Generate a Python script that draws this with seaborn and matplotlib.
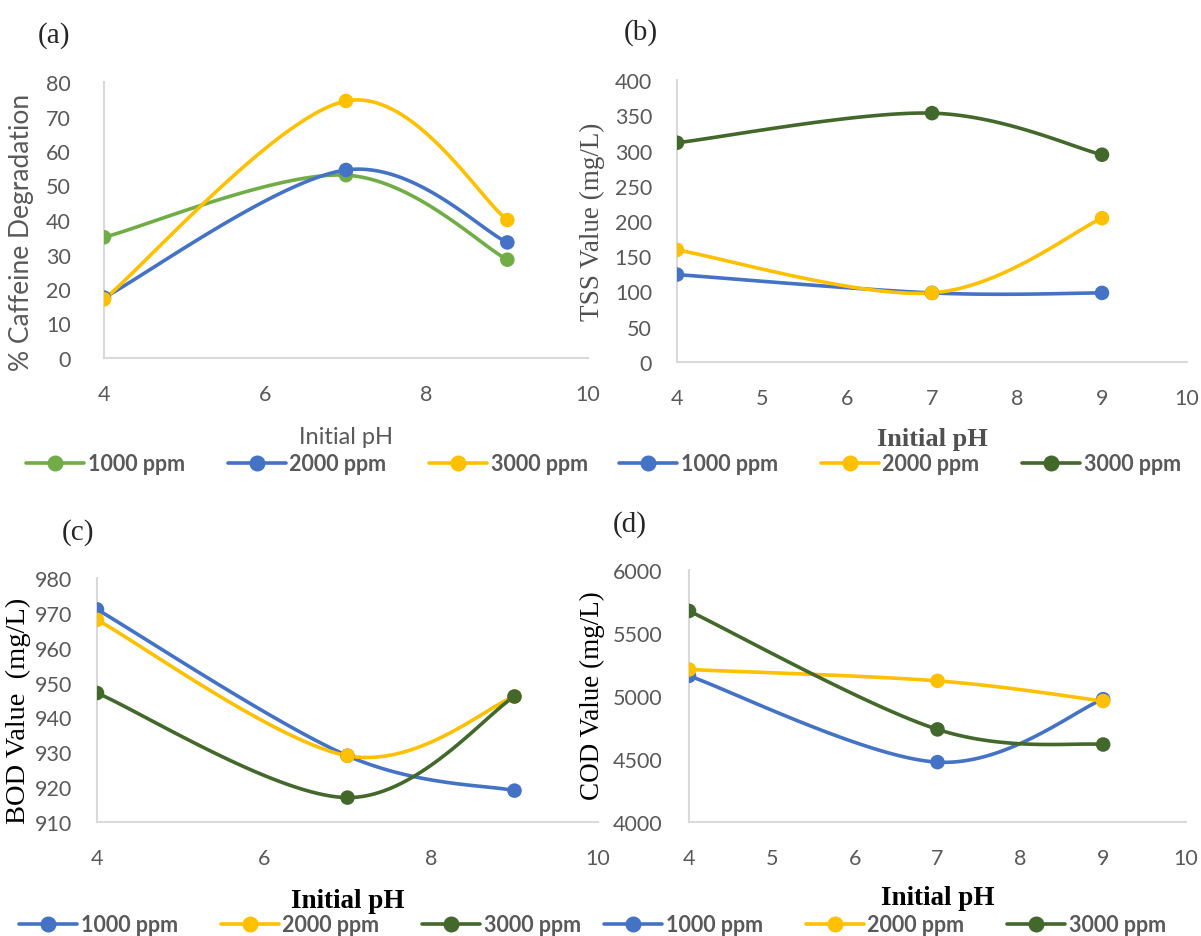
import numpy as np
import pandas as pd
import matplotlib
matplotlib.use("Agg")
import matplotlib.pyplot as plt
from matplotlib.lines import Line2D
import seaborn as sns

# --- data ---
ph = [4, 7, 9]
series_labels = ["1000 ppm", "2000 ppm", "3000 ppm"]

caffeine_1000 = [35, 53, 28.5]
caffeine_2000 = [17.5, 54.5, 33.5]
caffeine_3000 = [17, 74.5, 40]

tss_1000 = [124, 98, 98]
tss_2000 = [159, 98, 204]
tss_3000 = [311, 353, 294]

bod_1000 = [971, 929, 919]
bod_2000 = [968, 929, 946]
bod_3000 = [947, 917, 946]

cod_1000 = [5160, 4475, 4975]
cod_2000 = [5210, 5120, 4960]
cod_3000 = [5675, 4735, 4615]

BLUE = "#4472C4"
GOLD = "#FFC000"
LGREEN = "#70AD47"
DGREEN = "#43682B"
GRAY = "#595959"
SANS = ["Lato", "DejaVu Sans"]
SERIF = ["Liberation Serif", "DejaVu Serif"]

sns.set_style("white")
plt.rcParams["font.family"] = SANS


def excel_smooth(x, y, n=40):
    # bezier smoothing like Excel's "smoothed line" option (display only)
    pts = np.column_stack([x, y]).astype(float)
    out = []
    for i in range(len(pts) - 1):
        p0 = pts[i - 1] if i > 0 else pts[i]
        p1, p2 = pts[i], pts[i + 1]
        p3 = pts[i + 2] if i + 2 < len(pts) else pts[i + 1]
        c1 = p1 + (p2 - p0) / 6
        c2 = p2 - (p3 - p1) / 6
        t = np.linspace(0, 1, n)[:, None]
        seg = (1 - t) ** 3 * p1 + 3 * (1 - t) ** 2 * t * c1 + 3 * (1 - t) * t ** 2 * c2 + t ** 3 * p2
        out.append(seg if i == 0 else seg[1:])
    return np.vstack(out)


def draw_panel(ax, values, colors, xticks, ylim, ystep, ytick_pad):
    for vals, col, lab in zip(values, colors, series_labels):
        curve = excel_smooth(ph, vals)
        sm = pd.DataFrame({"pH": curve[:, 0], "v": curve[:, 1]})
        sns.lineplot(data=sm, x="pH", y="v", ax=ax, color=col, lw=2.6,
                     sort=False, estimator=None, legend=False)
        pts = pd.DataFrame({"pH": ph, "v": vals})
        sns.scatterplot(data=pts, x="pH", y="v", ax=ax, color=col, s=110,
                        edgecolor="none", legend=False, zorder=3)
    ax.set_xlim(4, 10)
    ax.set_ylim(*ylim)
    ax.set_xticks(xticks)
    ax.set_yticks(np.arange(ylim[0], ylim[1] + ystep / 2, ystep))
    for s in ["top", "right"]:
        ax.spines[s].set_visible(False)
    for s in ["left", "bottom"]:
        ax.spines[s].set_color("#D9D9D9")
        ax.spines[s].set_linewidth(1.5)
    ax.tick_params(axis="both", length=0, labelsize=15.5, labelcolor=GRAY)
    ax.tick_params(axis="x", pad=19)
    ax.tick_params(axis="y", pad=ytick_pad)
    for lbl in ax.get_xticklabels() + ax.get_yticklabels():
        lbl.set_family(SANS)


def add_legend(fig, colors, cx, cy):
    W, H = fig.get_size_inches() * fig.dpi
    handles = [Line2D([], [], color=c, lw=2.6, marker="o", markersize=10.5) for c in colors]
    leg = fig.legend(handles, series_labels, loc="center", bbox_to_anchor=(cx / W, 1 - cy / H),
                     ncol=3, frameon=False, handlelength=2.7, handletextpad=0.15,
                     columnspacing=2.0, prop={"family": SANS, "size": 15.5, "weight": "bold"})
    for t in leg.get_texts():
        t.set_color(GRAY)


fig = plt.figure(figsize=(12.01, 9.37), dpi=100)
W, H = 1201, 937


def px_axes(left, top, right, bottom):
    return fig.add_axes([left / W, 1 - bottom / H, (right - left) / W, (bottom - top) / H])


ax_a = px_axes(104, 83, 588, 359)
ax_b = px_axes(677, 81, 1187, 363)
ax_c = px_axes(97, 579, 598, 823)
ax_d = px_axes(689, 571, 1186, 823)

colors_a = [LGREEN, BLUE, GOLD]
colors_bcd = [BLUE, GOLD, DGREEN]

draw_panel(ax_a, [caffeine_1000, caffeine_2000, caffeine_3000], colors_a, [4, 6, 8, 10], (0, 80), 10, 24)
draw_panel(ax_b, [tss_1000, tss_2000, tss_3000], colors_bcd, range(4, 11), (0, 400), 50, 18)
draw_panel(ax_c, [bod_1000, bod_2000, bod_3000], colors_bcd, [4, 6, 8, 10], (910, 980), 10, 18)
draw_panel(ax_d, [cod_1000, cod_2000, cod_3000], colors_bcd, range(4, 11), (4000, 6000), 500, 19)


def set_labels(ax, xlab, ylab, xfont, yfont, xcenter_y, ycenter_x, ycenter_y):
    ax.set_xlabel(xlab, **xfont)
    ax.set_ylabel(ylab, **yfont)
    bb = ax.get_position()
    # convert pixel centres into axes fractions
    x0, y0 = bb.x0 * W, (1 - bb.y1) * H
    w, h = bb.width * W, bb.height * H
    ax.xaxis.set_label_coords(0.5, 1 - (xcenter_y - y0) / h)
    ax.xaxis.label.set_va("center")
    ax.yaxis.set_label_coords((ycenter_x - x0) / w, 1 - (ycenter_y - y0) / h)
    ax.yaxis.label.set_va("center")


set_labels(ax_a, "Initial pH", "% Caffeine Degradation",
           dict(family=SANS, size=17, color=GRAY),
           dict(family=SANS, size=19, color=GRAY), 438, 22, 232)
set_labels(ax_b, "Initial pH", "TSS Value (mg/L)",
           dict(family=SERIF, size=19, color="#505050", weight="bold"),
           dict(family=SERIF, size=19.5, color="#505050"), 440, 592, 222)
set_labels(ax_c, "Initial pH", "BOD Value  (mg/L)",
           dict(family=SERIF, size=19.5, color="black", weight="bold"),
           dict(family=SERIF, size=20.5, color="black"), 902, 18, 711)
set_labels(ax_d, "Initial pH", "COD Value (mg/L)",
           dict(family=SERIF, size=19.5, color="black", weight="bold"),
           dict(family=SERIF, size=19.5, color="black"), 899, 592, 696)

for lab, (cx, cy) in zip(["(a)", "(b)", "(c)", "(d)"], [(54, 36), (641, 33), (78, 533), (630, 525)]):
    fig.text(cx / W, 1 - cy / H, lab, ha="center", va="center", family=SERIF, size=21)

add_legend(fig, colors_a, 307, 465)
add_legend(fig, colors_bcd, 900, 465)
add_legend(fig, colors_bcd, 300, 926)
add_legend(fig, colors_bcd, 885, 926)

fig.savefig("out.png", dpi=100)
